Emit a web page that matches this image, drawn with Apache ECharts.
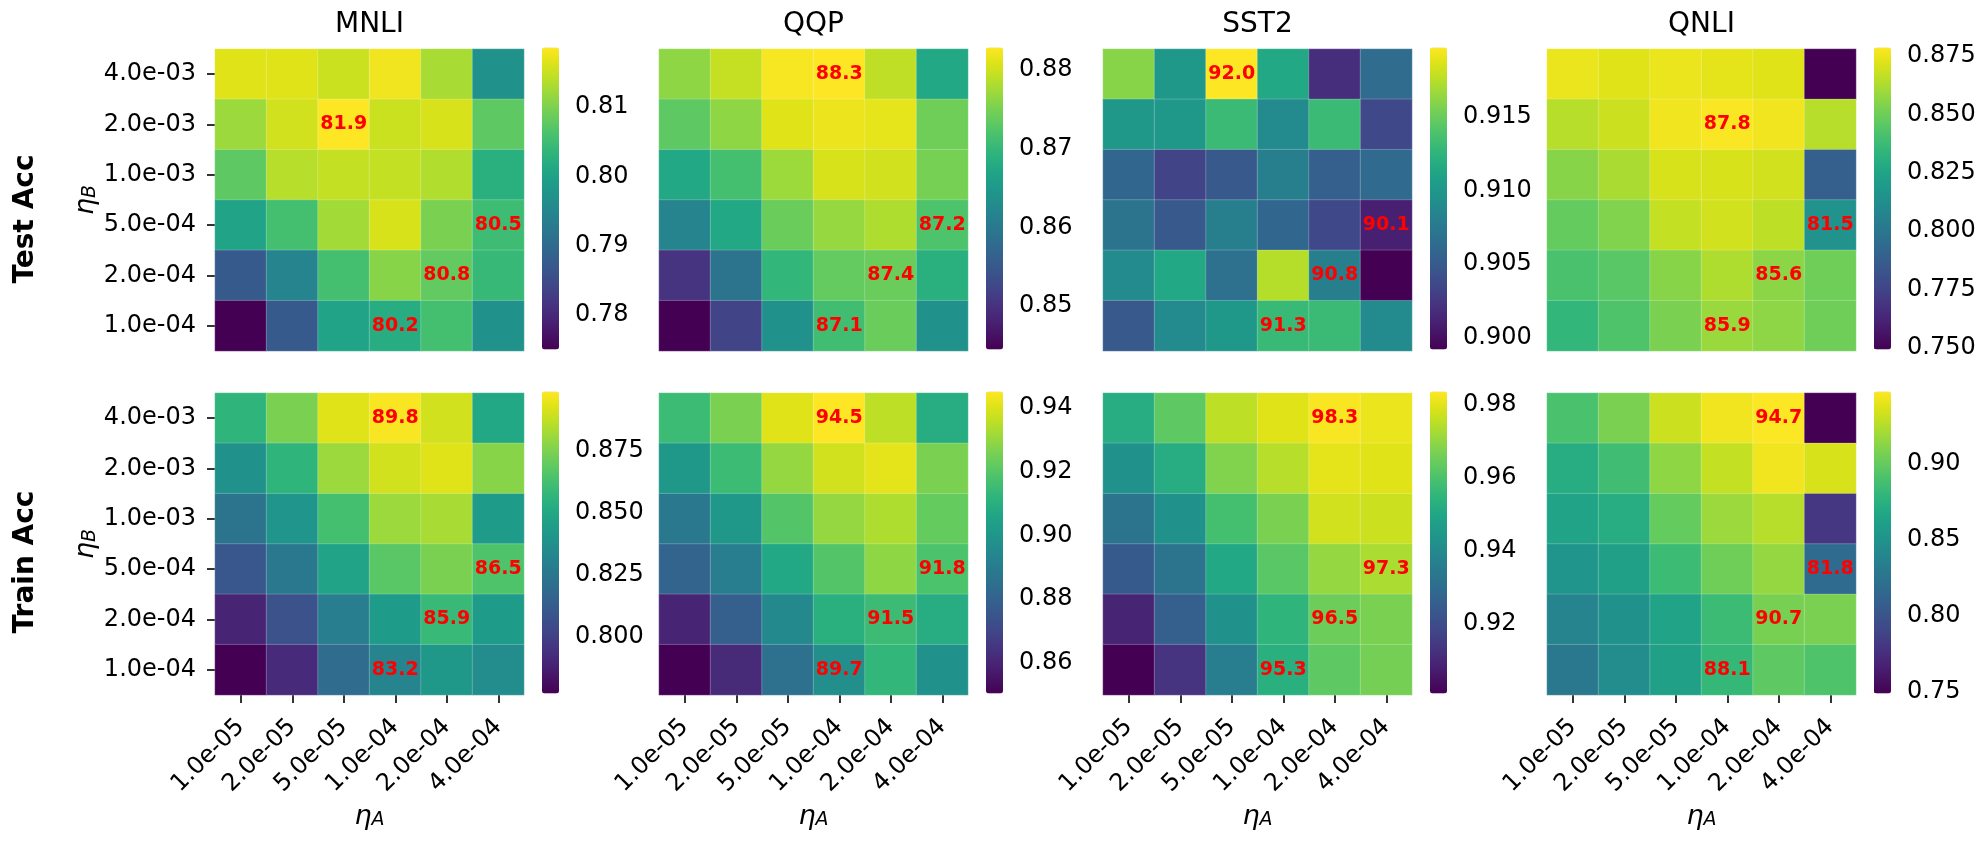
<!DOCTYPE html>
<html><head><meta charset="utf-8">
<script src="https://cdn.jsdelivr.net/npm/echarts/dist/echarts.min.js"></script>
<style>html,body{margin:0;padding:0;background:#fff}#c{width:1988px;height:845px}</style>
</head><body><div id="c"></div><script>
// ---- categories ----
const xCats = ['1.0e-05','2.0e-05','5.0e-05','1.0e-04','2.0e-04','4.0e-04'];   // eta_A
const yCats = ['4.0e-03','2.0e-03','1.0e-03','5.0e-04','2.0e-04','1.0e-04'];   // eta_B, top to bottom
const tasks = ['MNLI','QQP','SST2','QNLI'];
const rowNames = ['Test Acc','Train Acc'];

// ---- values (accuracy, %) rows = eta_B top->bottom, cols = eta_A ----
const mnliTest = [
 [81.64,81.64,81.51,81.77,81.29,79.68],
 [81.21,81.55,81.86,81.51,81.60,80.77],
 [80.77,81.38,81.47,81.47,81.34,80.25],
 [80.03,80.55,81.25,81.60,80.99,80.50],
 [78.72,79.46,80.55,81.08,80.80,80.42],
 [77.50,78.72,80.03,80.20,80.55,79.68]];
const qqpTest = [
 [87.63,87.94,88.24,88.28,87.90,86.75],
 [87.32,87.63,88.09,88.17,88.13,87.44],
 [86.75,87.13,87.71,88.05,88.01,87.48],
 [86.17,86.75,87.40,87.67,87.82,87.20],
 [85.02,85.91,86.98,87.36,87.40,86.86],
 [84.45,85.22,86.37,87.10,87.40,86.37]];
const sst2Test = [
 [91.60,91.01,91.97,91.15,90.19,90.64],
 [91.01,91.01,91.31,90.90,91.31,90.37],
 [90.60,90.33,90.49,90.80,90.54,90.62],
 [90.70,90.49,90.80,90.60,90.37,90.10],
 [90.90,91.15,90.68,91.74,90.80,89.92],
 [90.49,90.90,91.01,91.30,91.31,90.90]];
const qnliTest = [
 [87.47,87.21,87.47,87.34,87.21,74.94],
 [86.44,86.83,87.60,87.80,87.60,86.44],
 [85.53,86.18,87.08,87.08,86.96,78.82],
 [84.76,85.41,86.70,86.96,86.57,81.50],
 [84.11,84.50,85.53,86.31,85.60,85.02],
 [83.47,84.24,85.28,85.90,85.66,85.02]];
const mnliTrain = [
 [85.63,87.46,89.29,89.80,89.05,85.02],
 [83.80,85.63,88.07,89.05,89.29,87.70],
 [82.34,84.04,86.24,88.07,88.31,84.41],
 [81.00,82.58,84.78,86.73,87.46,86.50],
 [78.92,80.75,82.82,84.41,85.90,84.41],
 [77.70,79.16,81.97,83.20,84.17,83.56]];
const qqpTrain = [
 [91.48,92.62,94.04,94.51,93.56,90.91],
 [90.06,91.48,92.99,93.85,94.13,92.62],
 [88.83,90.06,91.95,92.99,93.37,92.24],
 [88.07,89.02,90.72,91.95,92.90,91.80],
 [85.99,87.88,89.49,91.01,91.50,90.91],
 [85.04,86.18,88.54,89.70,91.29,89.78]];
const sst2Train = [
 [95.22,96.30,97.53,97.95,98.30,98.11],
 [94.23,95.22,96.79,97.45,98.03,97.95],
 [93.24,94.23,95.88,96.71,97.78,97.70],
 [92.41,93.24,95.06,96.21,97.04,97.30],
 [90.93,92.58,94.23,95.47,96.50,96.71],
 [90.10,91.34,93.57,95.30,96.30,96.63]];
const qnliTrain = [
 [88.99,90.77,93.15,94.34,94.70,74.90],
 [87.20,88.59,91.37,92.95,94.34,93.55],
 [86.41,87.20,89.98,91.76,92.56,78.07],
 [85.22,86.21,88.39,90.38,91.57,81.80],
 [83.83,84.82,86.41,88.39,90.70,90.77],
 [82.84,84.42,86.21,88.10,89.78,89.18]];

// ---- colour-bar ranges (%) and tick labels ----
const mnliTestRange = [77.50, 81.86];  const mnliTestTicks = ['0.78','0.79','0.80','0.81'];
const qqpTestRange  = [84.45, 88.28];  const qqpTestTicks  = ['0.85','0.86','0.87','0.88'];
const sst2TestRange = [89.92, 91.97];  const sst2TestTicks = ['0.900','0.905','0.910','0.915'];
const qnliTestRange = [74.94, 87.86];  const qnliTestTicks = ['0.750','0.775','0.800','0.825','0.850','0.875'];
const mnliTrainRange = [77.70, 89.90]; const mnliTrainTicks = ['0.800','0.825','0.850','0.875'];
const qqpTrainRange  = [85.04, 94.51]; const qqpTrainTicks  = ['0.86','0.88','0.90','0.92','0.94'];
const sst2TrainRange = [90.10, 98.36]; const sst2TrainTicks = ['0.92','0.94','0.96','0.98'];
const qnliTrainRange = [74.90, 94.74]; const qnliTrainTicks = ['0.75','0.80','0.85','0.90'];

// ---- annotated cells [eta_A, eta_B] ----
const commonMarks = [['4.0e-04','5.0e-04'],['2.0e-04','2.0e-04'],['1.0e-04','1.0e-04']];
const mnliTestBest = ['5.0e-05','2.0e-03'];
const qqpTestBest  = ['1.0e-04','4.0e-03'];
const sst2TestBest = ['5.0e-05','4.0e-03'];
const qnliTestBest = ['1.0e-04','2.0e-03'];
const mnliTrainBest = ['1.0e-04','4.0e-03'];
const qqpTrainBest  = ['1.0e-04','4.0e-03'];
const sst2TrainBest = ['2.0e-04','4.0e-03'];
const qnliTrainBest = ['2.0e-04','4.0e-03'];

const panels = [
 {row:0,col:0,data:mnliTest,range:mnliTestRange,ticks:mnliTestTicks,best:mnliTestBest},
 {row:0,col:1,data:qqpTest,range:qqpTestRange,ticks:qqpTestTicks,best:qqpTestBest},
 {row:0,col:2,data:sst2Test,range:sst2TestRange,ticks:sst2TestTicks,best:sst2TestBest},
 {row:0,col:3,data:qnliTest,range:qnliTestRange,ticks:qnliTestTicks,best:qnliTestBest},
 {row:1,col:0,data:mnliTrain,range:mnliTrainRange,ticks:mnliTrainTicks,best:mnliTrainBest},
 {row:1,col:1,data:qqpTrain,range:qqpTrainRange,ticks:qqpTrainTicks,best:qqpTrainBest},
 {row:1,col:2,data:sst2Train,range:sst2TrainRange,ticks:sst2TrainTicks,best:sst2TrainBest},
 {row:1,col:3,data:qnliTrain,range:qnliTrainRange,ticks:qnliTrainTicks,best:qnliTrainBest}
];

const viridis = ['#440154','#471365','#482475','#463480','#414487','#3b528b','#355f8d','#2f6c8e','#2a788e','#25848e',
 '#21918c','#1e9c89','#22a884','#2fb47c','#44bf70','#5ec962','#7ad151','#9bd93c','#bddf26','#dfe318','#fde725'];

// ---- layout ----
const F = 'DejaVu Sans';
const colLeft = [215, 659, 1103, 1547];
const rowTop = [49, 393];
const W = 309, H = 302;
const cbGap = 18, cbW = 17;

const grid = [], xAxis = [], yAxis = [], series = [], visualMap = [], graphic = [];
const etaRich = {
  i:{fontSize:27, fontStyle:'italic', fontFamily:F, color:'#000', verticalAlign:'bottom', lineHeight:29},
  s:{fontSize:19, fontStyle:'italic', fontFamily:F, color:'#000', verticalAlign:'bottom', lineHeight:22}
};

panels.forEach((p, i) => {
  const left = colLeft[p.col], top = rowTop[p.row];
  const bottomRow = p.row === 1, firstCol = p.col === 0;
  grid.push({left:left, top:top, width:W, height:H});
  xAxis.push({gridIndex:i, type:'category', data:xCats,
    axisLine:{show:false}, splitLine:{show:false},
    axisTick:{show:bottomRow, alignWithLabel:true, length:8, lineStyle:{color:'#000', width:1.6}},
    axisLabel:{show:bottomRow, rotate:45, fontSize:24, fontFamily:F, color:'#000', margin:28},
    name: bottomRow ? '{i|η}{s|A}' : '', nameLocation:'middle', nameGap:106,
    nameTextStyle:{rich:etaRich}});
  yAxis.push({gridIndex:i, type:'category', data:yCats, inverse:true,
    axisLine:{show:false}, splitLine:{show:false},
    axisTick:{show:firstCol, alignWithLabel:true, length:8, lineStyle:{color:'#000', width:1.6}},
    axisLabel:{show:firstCol, fontSize:24, fontFamily:F, color:'#000', margin:19},
    name: firstCol ? '{i|η}{s|B}' : '', nameLocation:'middle', nameGap:113, nameRotate:90,
    nameTextStyle:{rich:etaRich}});
  const marks = [p.best].concat(commonMarks).map(m => xCats.indexOf(m[0]) + ',' + yCats.indexOf(m[1]));
  const data = [];
  p.data.forEach((rowVals, r) => rowVals.forEach((v, c) => data.push([c, r, v])));
  series.push({type:'heatmap', xAxisIndex:i, yAxisIndex:i, data:data,
    itemStyle:{borderColor:'rgba(255,255,255,0.28)', borderWidth:0.8},
    label:{show:true, color:'#ff0000', fontSize:19, fontWeight:'bold', fontFamily:F,
      formatter: q => marks.indexOf(q.value[0] + ',' + q.value[1]) >= 0 ? q.value[2].toFixed(1) : ''},
    emphasis:{disabled:true}, animation:false});
  const cbLeft = left + W + cbGap, cbTop = top - 1.5;
  visualMap.push({type:'continuous', seriesIndex:i, min:p.range[0], max:p.range[1],
    inRange:{color:viridis}, orient:'vertical', left:cbLeft, top:cbTop, padding:0,
    itemWidth:cbW, itemHeight:H, calculable:false, hoverLink:false, text:null,
    formatter: () => ''});
});

// colour-bar axes
panels.forEach((p, i) => {
  const left = colLeft[p.col], top = rowTop[p.row];
  const gi = grid.length;
  const tickVals = p.ticks.map(t => parseFloat(t) * 100);
  grid.push({left:left + W + cbGap, top:top - 1.5, width:cbW, height:H});
  xAxis.push({gridIndex:gi, type:'value', show:false, min:0, max:1});
  yAxis.push({gridIndex:gi, type:'value', position:'right', min:p.range[0], max:p.range[1],
    axisLine:{show:false}, splitLine:{show:false},
    axisTick:{show:true, length:8, customValues:tickVals, lineStyle:{color:'#000', width:1.6}},
    axisLabel:{show:true, customValues:tickVals, fontSize:24, fontFamily:F, color:'#000', margin:16,
      formatter: v => { let k = 0, d = Infinity; tickVals.forEach((t, j) => { if (Math.abs(t - v) < d) { d = Math.abs(t - v); k = j; } }); return p.ticks[k]; }}});
});

// titles and row labels
tasks.forEach((t, c) => {
  graphic.push({type:'text', x:colLeft[c] + W / 2, y:25, silent:true,
    style:{text:t, font:'28px "DejaVu Sans"', fill:'#000', textAlign:'center', textVerticalAlign:'middle'}});
});
rowNames.forEach((t, r) => {
  graphic.push({type:'text', x:26, y:[219, 562][r], rotation:Math.PI / 2, silent:true,
    style:{text:t, font:'bold 28px "DejaVu Sans"', fill:'#000', textAlign:'center', textVerticalAlign:'middle'}});
});

const chart = echarts.init(document.getElementById('c'), null, {renderer:'canvas'});
chart.setOption({backgroundColor:'#fff', animation:false, grid, xAxis, yAxis, series, visualMap, graphic});
</script></body></html>
